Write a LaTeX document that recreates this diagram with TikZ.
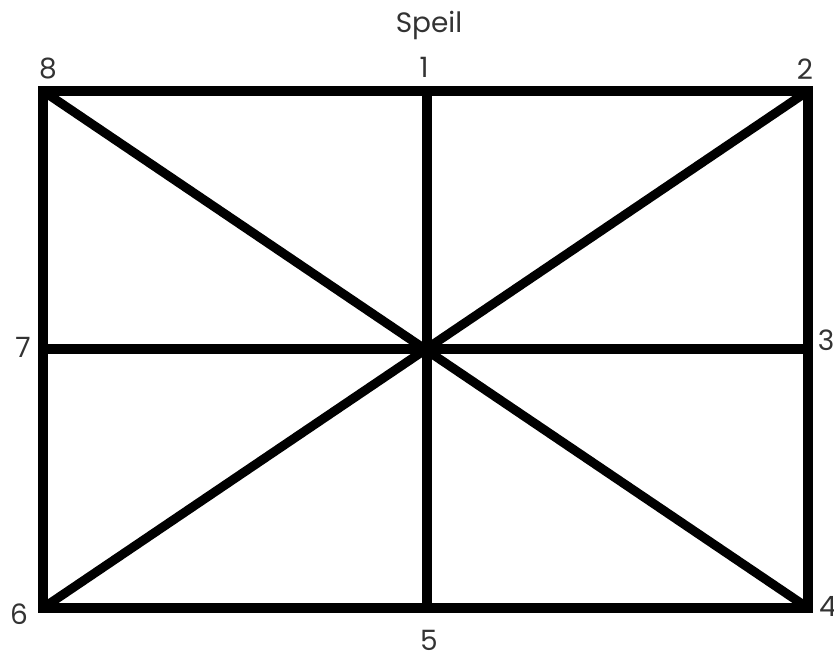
\documentclass[tikz,border=0pt]{standalone}
\usepackage{fontspec}
\setmainfont{Poppins}
\begin{document}
\begin{tikzpicture}[x=0.75pt,y=-0.75pt,
  edge/.style={line width=6.8pt,black},
  lbl/.style={inner sep=0pt,font=\fontsize{21}{24}\selectfont,text=black!80}]
\useasboundingbox (0,0) rectangle (834,657);
\coordinate (c8) at (43,91);
\coordinate (c2) at (808,91);
\coordinate (c4) at (808,608);
\coordinate (c6) at (43,608);
\coordinate (m1) at (427,91);
\coordinate (m3) at (808,349);
\coordinate (m5) at (427,608);
\coordinate (m7) at (43,349);
\coordinate (ctr) at (427,349);
\draw[edge] (c8) -- (c2) -- (c4) -- (c6) -- cycle;
\draw[edge] (m1) -- (m5);
\draw[edge] (m7) -- (m3);
\draw[edge] (c8) -- (c4);
\draw[edge] (c2) -- (c6);
\node[lbl] (speil) at (429,25) {Speil};
\node[lbl] (n1) at (424,67) {1};
\node[lbl] (n8) at (48,69) {8};
\node[lbl] (n2) at (805,69) {2};
\node[lbl] (n7) at (23,347) {7};
\node[lbl] (n3) at (826,340) {3};
\node[lbl] (n6) at (19,614) {6};
\node[lbl] (n4) at (828,606) {4};
\node[lbl] (n5) at (429,640) {5};
\end{tikzpicture}
\end{document}
